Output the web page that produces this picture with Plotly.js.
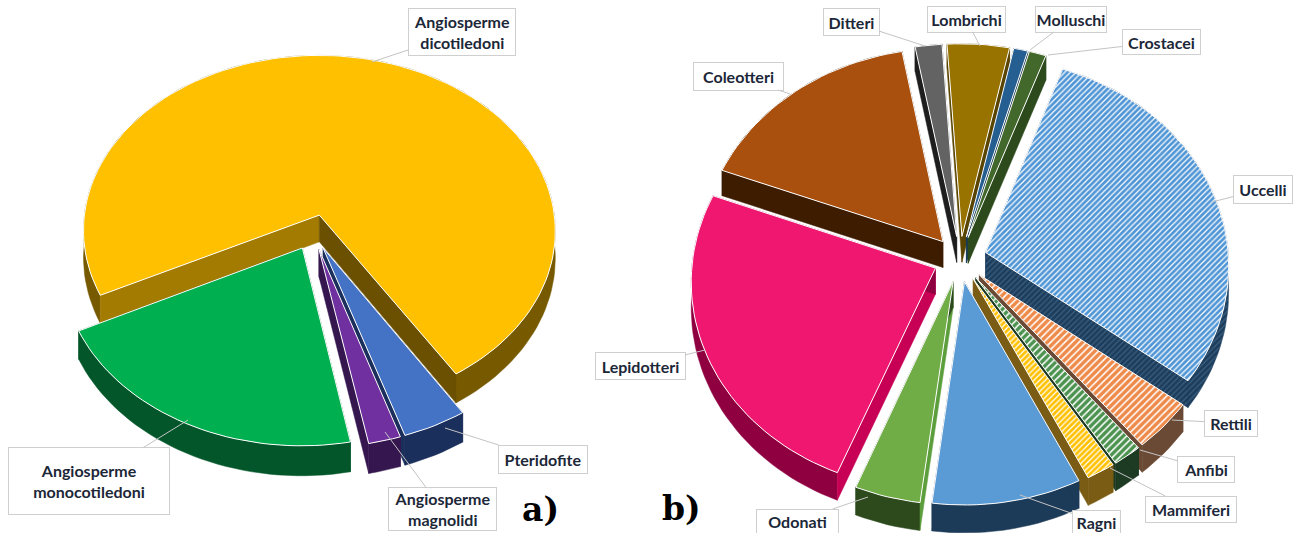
<!DOCTYPE html>
<html><head><meta charset="utf-8">
<script src="https://cdn.plot.ly/plotly-3.0.1.min.js"></script>
<style>html,body{margin:0;padding:0;background:#fff}#c{width:1302px;height:533px}</style>
</head><body><div id="c"></div>
<script>
// ---- data a) ----
const plantCategories = ["Pteridofite","Angiosperme magnolidi","Angiosperme monocotiledoni","Angiosperme dicotiledoni"];
const plantValues = [4.0, 2.0, 20.7, 73.3];
const plantTop = ["#4472C4","#7030A0","#00B050","#FFC000"];
const plantRim = ["#1b2f5c","#35164f","#03562a","#775a00"];
const plantCutStart = ["#1b2f5c","#35164f","#03562a","#a27b00"];
const plantCutEnd = ["#1b2f5c","#35164f","#03562a","#6a5000"];
// ---- data b) ----
const animalCategories = ["Uccelli","Rettili","Anfibi","Mammiferi","Ragni","Odonati","Lepidotteri","Coleotteri","Ditteri","Lombrichi","Molluschi","Crostacei"];
const animalValues = [29.7, 3.9, 1.8, 1.8, 9.3, 4.1, 24.7, 16.3, 1.9, 4.4, 1.0, 1.2];
const animalTop = ["#4F95D5","#EE8A4A","#4d9350","#FFC000","#5B9BD5","#70AD47","#EF1770","#A9500F","#636363","#997300","#255E91","#43682B"];
const animalRim = ["#1c3d5c","#6b4a35","#1d3a22","#7a5c14","#1c3b58","#2d4a1d","#8f0040","#3d1c00","#1e1e1e","#5a4500","#173a5a","#2c4a1c"];
const animalCutStart = ["#1c3d5c","#6b4a35","#1d3a22","#7a5c14","#1c3b58","#5d9e3c","#c70055","#3d1c00","#1e1e1e","#5a4500","#173a5a","#2c4a1c"];
const animalPattern = ["/","/","/","/","","","","","","","",""];
const animalPatternSize = [4,5,5,4,0,0,0,0,0,0,0,0];
// ---- labels ----
const plantLabels = ["Angiosperme<br>dicotiledoni","Angiosperme<br>monocotiledoni","Angiosperme<br>magnolidi","Pteridofite"];
const plantLabelBox = [[462,32,108,48],[89,481,162,68],[442,509,109,44],[543,459,90,29]];
const plantLabelTip = [[372,62],[188,420],[385,432],[445,428]];
const animalLabels = ["Ditteri","Lombrichi","Molluschi","Crostacei","Coleotteri","Uccelli","Lepidotteri","Rettili","Anfibi","Mammiferi","Ragni","Odonati"];
const animalLabelBox = [[851,22,57,28],[966,19,79,27],[1071,19,72,27],[1161,42,79,26],[738,76,91,29],[1263,189,60,29],[640,366,91,28],[1231,423,54,27],[1206,469,58,27],[1191,509,92,27],[1096,522,49,24],[797,521,83,25]];
const animalLabelTip = [[925,46],[980,46],[1030,50],[1048,55],[790,94],[1212,202],[705,350],[1172,420],[1140,450],[1110,468],[1020,495],[868,497]];

// ---- pie geometry (tilted, exploded) ----
const pieA = {cx:313, cy:232, A:237, B:177, k:0.09, pull:0.10, depth:27, rot:147.6};
const pieB = {cx:960, cy:259, A:243, B:207, k:0.0606, pull:0.11, depth:26, rot:20};

function project(g,u,v,drop){
  const w = 1 + g.k*v;
  return [g.cx + g.A*u/w, g.cy - g.B*v/w + (drop ? g.depth/w : 0)];
}
function poly(color, name, pts, lineColor, pattern){
  const t = {type:"scatter", mode:"lines", fill:"toself", fillcolor:color, name:name,
    x:pts.map(p=>p[0]), y:pts.map(p=>p[1]),
    line:{color:lineColor||color, width:lineColor?1:0.5}, showlegend:false, hoverinfo:"name"};
  if(pattern) t.fillpattern = pattern;
  return t;
}
function buildPie(g, names, values, tops, rims, cutS, cutE, patterns, patternSizes, wallPatternIdx){
  const total = values.reduce((a,b)=>a+b,0);
  let ang = g.rot;
  const slices = names.map((n,i)=>{
    const span = values[i]/total*360, s={i,n,a0:ang,a1:ang+span,mid:ang+span/2};
    ang += span; return s;
  });
  slices.sort((p,q)=>Math.cos(q.mid*Math.PI/180)-Math.cos(p.mid*Math.PI/180));
  const out=[];
  slices.forEach(s=>{
    const rad=d=>d*Math.PI/180, pu=g.pull*Math.sin(rad(s.mid)), pv=g.pull*Math.cos(rad(s.mid));
    const at=(d,r)=>[pu+r*Math.sin(rad(d)), pv+r*Math.cos(rad(d))];
    const arc=[], n=Math.max(2,Math.ceil((s.a1-s.a0)/2));
    for(let j=0;j<=n;j++) arc.push(s.a0+(s.a1-s.a0)*j/n);
    const top=arc.map(d=>project(g,...at(d,1),false));
    const bot=arc.map(d=>project(g,...at(d,1),true));
    const tipT=project(g,pu,pv,false), tipB=project(g,pu,pv,true);
    const pat = patterns && patterns[s.i] ? {shape:patterns[s.i], bgcolor:tops[s.i], fgcolor:"#ffffff", size:patternSizes[s.i], solidity:0.3} : null;
    const wallPat = (wallPatternIdx===s.i) ? {shape:"/", bgcolor:rims[s.i], fgcolor:"#3d5f80", size:4, solidity:0.3} : null;
    out.push(poly(rims[s.i], s.n, top.concat(bot.slice().reverse()).concat([top[0]]), null, wallPat));
    out.push(poly((cutS||rims)[s.i], s.n, [tipT,top[0],bot[0],tipB,tipT], null, wallPat));
    out.push(poly((cutE||rims)[s.i], s.n, [tipT,top[top.length-1],bot[bot.length-1],tipB,tipT], null, wallPat));
    out.push(poly(tops[s.i], s.n, [tipT].concat(top).concat([tipT]), "#ffffff", pat));
  });
  return out;
}
const traces = [].concat(
  buildPie(pieA, plantCategories, plantValues, plantTop, plantRim, plantCutStart, plantCutEnd, null, null, -1),
  buildPie(pieB, animalCategories, animalValues, animalTop, animalRim, animalCutStart, null, animalPattern, animalPatternSize, 0)
);
function labelAnn(text, box, tip){
  return {xref:"x", yref:"y", axref:"x", ayref:"y", x:tip[0], y:tip[1], ax:box[0], ay:box[1],
    text:text, showarrow:true, arrowhead:0, arrowwidth:1, arrowcolor:"#c4c4c4", standoff:0,
    width:box[2]-2, height:box[3]-2, align:"center", valign:"middle",
    bgcolor:"#ffffff", bordercolor:"#cfcfcf", borderwidth:1, borderpad:0,
    font:{family:"Lato, sans-serif", size:16, color:"#1c2738", weight:700}};
}
const annotations = [];
plantLabels.forEach((t,i)=>annotations.push(labelAnn(t,plantLabelBox[i],plantLabelTip[i])));
animalLabels.forEach((t,i)=>annotations.push(labelAnn(t,animalLabelBox[i],animalLabelTip[i])));
const panelTitles = ["a)","b)"], panelX = [540,681], panelY = [509,508];
panelTitles.forEach((t,i)=>annotations.push({xref:"x",yref:"y",x:panelX[i],y:panelY[i],text:"<b>"+t+"</b>",showarrow:false,
  font:{family:"DejaVu Serif, serif",size:33,color:"#000"}}));
const axis = {visible:false, fixedrange:true, showgrid:false, zeroline:false};
Plotly.newPlot("c", traces, {
  width:1302, height:533, margin:{l:0,r:0,t:0,b:0}, paper_bgcolor:"#fff", plot_bgcolor:"#fff",
  showlegend:false, hovermode:"closest",
  xaxis:Object.assign({range:[0,1302]},axis),
  yaxis:Object.assign({range:[533,0]},axis),
  annotations:annotations
},{displayModeBar:false});
</script></body></html>
